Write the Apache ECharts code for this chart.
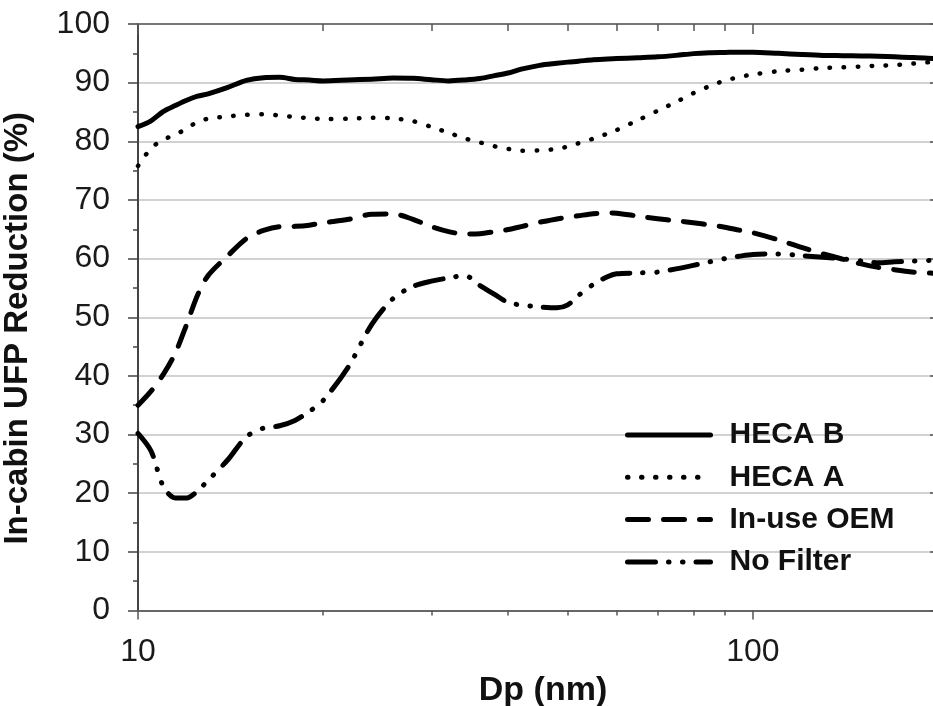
<!DOCTYPE html>
<html><head><meta charset="utf-8">
<script src="https://cdn.jsdelivr.net/npm/echarts@6/dist/echarts.min.js"></script>
<style>html,body{margin:0;padding:0;background:#fff}#c{width:933px;height:706px}</style>
</head><body><div id="c"></div>
<script>
// Particle diameter (nm)
const dp = [10, 10.5, 11, 11.5, 12, 12.5, 13, 14, 15, 16, 17, 18, 19, 20, 22, 24, 26, 28, 30, 32, 34, 36, 38, 40, 42, 45, 48, 50, 52, 55, 58, 60, 65, 70, 75, 80, 85, 90, 95, 100, 110, 120, 130, 140, 150, 160, 170, 180, 190, 200];
const hecaB = [82.5, 83.5, 85.1, 86.1, 87.0, 87.7, 88.1, 89.2, 90.4, 90.85, 90.9, 90.55, 90.45, 90.3, 90.45, 90.6, 90.8, 90.75, 90.5, 90.3, 90.45, 90.7, 91.2, 91.65, 92.3, 92.95, 93.3, 93.5, 93.65, 93.9, 94.05, 94.1, 94.25, 94.4, 94.65, 94.95, 95.1, 95.15, 95.2, 95.2, 95.0, 94.8, 94.65, 94.6, 94.55, 94.5, 94.4, 94.3, 94.2, 94.05];
const hecaA = [75.8, 78.8, 80.3, 81.1, 82.2, 83.3, 83.85, 84.25, 84.5, 84.6, 84.4, 84.15, 83.95, 83.8, 83.85, 84.0, 83.9, 83.45, 82.45, 81.45, 80.5, 79.8, 79.15, 78.7, 78.4, 78.45, 78.7, 79.1, 79.65, 80.45, 81.3, 81.9, 83.6, 85.2, 86.7, 88.2, 89.4, 90.35, 90.95, 91.4, 91.95, 92.2, 92.5, 92.6, 92.75, 92.9, 93.0, 93.2, 93.4, 93.7];
const inUseOEM = [35.0, 37.4, 40.3, 43.9, 48.8, 53.8, 57.1, 60.5, 63.4, 64.8, 65.45, 65.5, 65.7, 66.1, 66.7, 67.55, 67.6, 66.7, 65.45, 64.6, 64.2, 64.25, 64.6, 64.95, 65.45, 66.2, 66.75, 67.05, 67.3, 67.65, 67.8, 67.75, 67.25, 66.8, 66.45, 66.1, 65.75, 65.35, 64.85, 64.4, 63.2, 61.9, 60.8, 59.9, 59.1, 58.5, 58.1, 57.75, 57.6, 57.45];
const noFilter = [30.2, 27.2, 21.1, 19.2, 19.2, 20.4, 22.2, 25.7, 29.6, 31.1, 31.5, 32.4, 33.95, 35.8, 41.6, 48.8, 53.2, 55.25, 56.15, 56.7, 57.1, 55.4, 53.9, 52.5, 52.1, 51.75, 51.6, 52.1, 53.7, 55.6, 56.9, 57.4, 57.55, 57.7, 58.25, 58.85, 59.45, 60.0, 60.4, 60.7, 60.8, 60.5, 60.25, 59.95, 59.6, 59.3, 59.45, 59.55, 59.65, 59.7];

const seriesNames = ['HECA B', 'HECA A', 'In-use OEM', 'No Filter'];
const xMajorTicks = [10, 100];
const xMinorTicks = [20, 30, 40, 50, 60, 70, 80, 90];
const xTitle = 'Dp (nm)';
const yTitle = 'In-cabin UFP Reduction (%)';

const FONT = '"Liberation Sans", Arial, sans-serif';
const pairs = arr => dp.map((x, i) => [x, arr[i]]);

const chart = echarts.init(document.getElementById('c'), null, {renderer: 'canvas'});

function xAx(pos, ticks, len, opts) {
  return Object.assign({
    type: 'log', logBase: 10, min: 10, max: 200, position: pos,
    axisLine: {show: false, onZero: false},
    axisTick: {show: true, inside: pos === 'top', length: len, customValues: ticks,
      lineStyle: {color: '#555', width: 1.5}},
    axisLabel: {show: false},
    splitLine: {show: false},
    minorTick: {show: false}, minorSplitLine: {show: false}
  }, opts || {});
}

const lineWidths = [5, 4.5, 5, 5];
const dashTypes = ['solid', [0.5, 13.5], [21, 15], [28, 13, 0.5, 13.5, 0.5, 13]];
const dataSets = [hecaB, hecaA, inUseOEM, noFilter];

chart.setOption({
  animation: false,
  backgroundColor: '#fff',
  grid: {left: 138, right: -5, top: 24, bottom: 95.5, containLabel: false, outerBoundsMode: 'none'},
  legend: {
    orient: 'vertical', left: 625, top: 420, padding: 0,
    itemWidth: 83, itemHeight: 14, itemGap: 12.3,
    data: seriesNames,
    textStyle: {fontFamily: FONT, fontWeight: 'bold', fontSize: 30, color: '#111', padding: [0, 0, 0, 14], lineHeight: 30},
    lineStyle: {width: 5},
    itemStyle: {opacity: 0, borderWidth: 0},
    selectedMode: false
  },
  xAxis: [
    xAx('bottom', xMajorTicks, 9, {
      axisLine: {show: true, onZero: false, lineStyle: {color: '#666', width: 2}},
      axisLabel: {show: true, customValues: xMajorTicks, margin: 26, fontFamily: FONT, fontSize: 32, color: '#1a1a1a'},
      name: xTitle, nameLocation: 'middle', nameGap: 58,
      nameTextStyle: {fontFamily: FONT, fontWeight: 'bold', fontSize: 34, color: '#111', padding: [0, 0, 0, 10]}
    }),
    xAx('bottom', xMinorTicks, 5),
    xAx('top', xMajorTicks, 10, {axisLine: {show: true, onZero: false, lineStyle: {color: '#777', width: 2}}}),
    xAx('top', xMinorTicks, 7)
  ],
  yAxis: [
    {
      type: 'value', min: 0, max: 100, interval: 10, position: 'left',
      axisLine: {show: true, onZero: false, lineStyle: {color: '#444', width: 2}},
      axisTick: {show: true, inside: false, length: 10, lineStyle: {color: '#444', width: 1.5}},
      minorTick: {show: true, splitNumber: 2, length: 5, lineStyle: {color: '#444', width: 1.5}},
      axisLabel: {margin: 28, fontFamily: FONT, fontSize: 32, color: '#1a1a1a'},
      splitLine: {show: true, lineStyle: {color: '#d2d2d2', width: 2}},
      name: yTitle, nameLocation: 'middle', nameRotate: 90, nameGap: 96,
      nameTextStyle: {fontFamily: FONT, fontWeight: 'bold', fontSize: 33, color: '#111', padding: [0, 22, 8, 0]}
    },
    {
      type: 'value', min: 0, max: 100, interval: 10, position: 'right',
      axisLine: {show: true, onZero: false, lineStyle: {color: '#666', width: 2}},
      axisTick: {show: true, inside: true, length: 8, lineStyle: {color: '#555', width: 1.5}},
      minorTick: {show: true, splitNumber: 2, length: 5, lineStyle: {color: '#555', width: 1.5}},
      axisLabel: {show: false},
      splitLine: {show: false}
    }
  ],
  series: seriesNames.map((n, i) => ({
    name: n, type: 'line', xAxisIndex: 0, yAxisIndex: 0,
    data: pairs(dataSets[i]),
    symbol: 'none', smooth: 0.3,
    color: '#000',
    itemStyle: {color: '#000'},
    lineStyle: {width: lineWidths[i], color: '#000', cap: 'round', join: 'round', type: dashTypes[i]},
    z: 5 - i
  }))
});
</script>
</body></html>
